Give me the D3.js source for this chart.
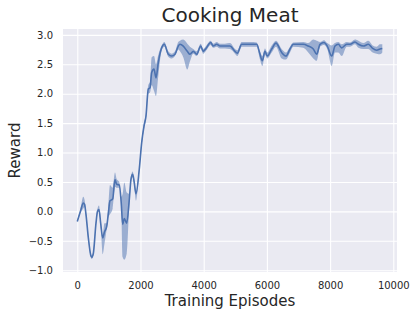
<!DOCTYPE html>
<html>
<head>
<meta charset="utf-8">
<script src="https://cdn.jsdelivr.net/npm/d3@7"></script>
<style>
  body { margin: 0; background: #fff; }
  svg text { font-family: "DejaVu Sans", sans-serif; fill: #262626; }
</style>
</head>
<body>
<div id="chart"></div>
<script>
// data
var episodes = [0,100,190,230,275,350,424,456,506,592,640,687,740,804,860,930,980,1035,1120,1193,1247,1329,1390,1437,1487,1563,1646,1700,1753,1800,1858,1962,2038,2111,2174,2247,2301,2354,2427,2491,2563,2671,2753,2880,2987,3092,3196,3250,3354,3481,3566,3671,3778,3905,3987,4073,4222,4304,4411,4516,4674,4832,4991,5063,5203,5361,5570,5677,5782,5854,5940,6013,6152,6288,6468,6604,6731,6835,7152,7310,7468,7576,7680,7807,7911,8051,8155,8259,8367,8525,8630,8788,8896,9051,9209,9348,9475,9579,9652];
var meanReward = [-0.17,0.0,0.14,0.12,-0.05,-0.45,-0.74,-0.78,-0.72,-0.2,0.0,0.03,-0.2,-0.45,-0.35,-0.26,-0.05,0.18,0.21,0.54,0.46,0.45,0.15,-0.22,-0.12,-0.2,0.2,0.55,0.63,0.5,0.3,0.72,1.17,1.45,1.62,2.08,2.1,2.36,2.42,2.27,2.53,2.78,2.84,2.67,2.64,2.67,2.81,2.84,2.81,2.72,2.67,2.72,2.67,2.81,2.72,2.77,2.87,2.81,2.84,2.81,2.81,2.81,2.72,2.69,2.84,2.84,2.84,2.84,2.67,2.56,2.72,2.64,2.76,2.86,2.70,2.64,2.76,2.84,2.84,2.81,2.76,2.67,2.84,2.87,2.81,2.64,2.81,2.84,2.78,2.84,2.84,2.88,2.84,2.81,2.84,2.77,2.74,2.76,2.77];
var lowerBand = [-0.19,-0.02,0.05,0.08,-0.08,-0.48,-0.77,-0.81,-0.75,-0.24,-0.03,0.0,-0.24,-0.73,-0.55,-0.3,-0.1,-0.05,0.05,0.42,0.4,0.4,0.1,-0.78,-0.82,-0.72,0.1,0.5,0.58,0.45,0.18,0.68,1.12,1.4,1.57,2.0,2.02,2.15,2.05,1.96,2.3,2.74,2.8,2.63,2.6,2.64,2.75,2.72,2.62,2.41,2.55,2.68,2.64,2.77,2.68,2.73,2.83,2.78,2.8,2.77,2.77,2.76,2.68,2.64,2.8,2.8,2.8,2.8,2.58,2.47,2.66,2.6,2.7,2.8,2.6,2.58,2.7,2.8,2.78,2.7,2.6,2.56,2.8,2.83,2.76,2.47,2.7,2.7,2.64,2.8,2.8,2.84,2.78,2.76,2.76,2.7,2.68,2.67,2.7];
var upperBand = [-0.15,0.05,0.25,0.2,0.0,-0.42,-0.71,-0.75,-0.69,-0.16,0.05,0.1,-0.16,-0.4,-0.2,-0.2,0.1,0.45,0.4,0.66,0.55,0.5,0.25,0.3,0.49,0.32,0.3,0.6,0.68,0.55,0.35,0.76,1.22,1.5,1.67,2.15,2.2,2.62,2.64,2.5,2.66,2.82,2.88,2.72,2.68,2.72,2.88,2.9,2.92,2.85,2.8,2.76,2.72,2.85,2.76,2.81,2.9,2.85,2.88,2.85,2.85,2.86,2.76,2.74,2.88,2.88,2.88,2.87,2.72,2.64,2.77,2.7,2.82,2.9,2.76,2.7,2.8,2.87,2.88,2.86,2.92,2.9,2.88,2.91,2.86,2.82,2.86,2.88,2.84,2.88,2.87,2.92,2.9,2.86,2.9,2.82,2.8,2.84,2.84];

var xTicks = [0,2000,4000,6000,8000,10000];
var yTicks = [-1.0,-0.5,0.0,0.5,1.0,1.5,2.0,2.5,3.0];

(function() {
var rows = episodes.map(function(e, i) {
  return {x: e, y: meanReward[i], lo: lowerBand[i], hi: upperBand[i]};
});

var W = 417, H = 318;
var margin = {left: 63, right: 397, top: 29, bottom: 272};

var svg = d3.select("#chart").append("svg")
  .attr("width", W)
  .attr("height", H);

var x = d3.scaleLinear().domain([-452, 10117]).range([margin.left, margin.right]);
var y = d3.scaleLinear().domain([-1.03, 3.1]).range([margin.bottom, margin.top]);

// background
svg.append("rect")
  .attr("x", margin.left).attr("y", margin.top)
  .attr("width", margin.right - margin.left).attr("height", margin.bottom - margin.top)
  .attr("fill", "#eaeaf2");

// grid
svg.append("g")
  .attr("transform", "translate(0," + margin.bottom + ")")
  .call(d3.axisBottom(x).tickValues(xTicks).tickSize(-(margin.bottom - margin.top)).tickFormat(""))
  .call(function(g) { g.select(".domain").remove(); })
  .selectAll("line").attr("stroke", "#fff").attr("stroke-width", 1.1);

svg.append("g")
  .attr("transform", "translate(" + margin.left + ",0)")
  .call(d3.axisLeft(y).tickValues(yTicks).tickSize(-(margin.right - margin.left)).tickFormat(""))
  .call(function(g) { g.select(".domain").remove(); })
  .selectAll("line").attr("stroke", "#fff").attr("stroke-width", 1.1);

// tick labels
var xAxis = svg.append("g")
  .attr("transform", "translate(0," + margin.bottom + ")")
  .call(d3.axisBottom(x).tickValues(xTicks).tickSize(0).tickPadding(10).tickFormat(d3.format("d")));
xAxis.select(".domain").remove();
xAxis.selectAll("text").attr("font-size", 10).attr("fill", "#262626").attr("font-family", "DejaVu Sans");

var yAxis = svg.append("g")
  .attr("transform", "translate(" + margin.left + ",0)")
  .call(d3.axisLeft(y).tickValues(yTicks).tickSize(0).tickPadding(10)
    .tickFormat(function(d) { return d3.format(".1f")(d).replace("-", "\u2212"); }));
yAxis.select(".domain").remove();
yAxis.selectAll("text").attr("font-size", 10).attr("fill", "#262626").attr("font-family", "DejaVu Sans");

// band + line
var area = d3.area()
  .x(function(d) { return x(d.x); })
  .y0(function(d) { return y(d.lo); })
  .y1(function(d) { return y(d.hi); })
  .curve(d3.curveMonotoneX);

svg.append("path")
  .datum(rows)
  .attr("d", area)
  .attr("fill", "#4c72b0")
  .attr("fill-opacity", 0.5);

var line = d3.line()
  .x(function(d) { return x(d.x); })
  .y(function(d) { return y(d.y); })
  .curve(d3.curveMonotoneX);

svg.append("path")
  .datum(rows)
  .attr("d", line)
  .attr("fill", "none")
  .attr("stroke", "#4c72b0")
  .attr("stroke-width", 1.6);

// titles
svg.append("text")
  .attr("x", (margin.left + margin.right) / 2).attr("y", 22)
  .attr("text-anchor", "middle")
  .attr("font-size", 20)
  .text("Cooking Meat");

svg.append("text")
  .attr("x", (margin.left + margin.right) / 2).attr("y", 306)
  .attr("text-anchor", "middle")
  .attr("font-size", 15)
  .text("Training Episodes");

svg.append("text")
  .attr("transform", "translate(20," + ((margin.top + margin.bottom) / 2) + ") rotate(-90)")
  .attr("text-anchor", "middle")
  .attr("font-size", 15)
  .text("Reward");
})();
</script>
</body>
</html>
